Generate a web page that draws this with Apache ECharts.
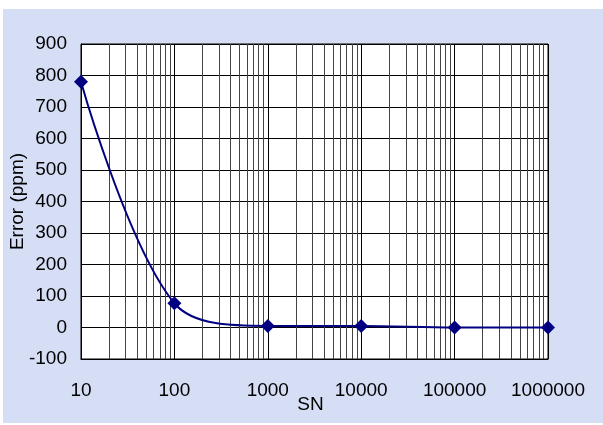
<!DOCTYPE html>
<html>
<head>
<meta charset="utf-8">
<script src="https://cdn.jsdelivr.net/npm/echarts@6/dist/echarts.min.js"></script>
<style>
html,body{margin:0;padding:0;background:#fff;}
#c{width:603px;height:425px;}
</style>
</head>
<body>
<div id="c"></div>
<script>
// Data
const snValues = [10, 100, 1000, 10000, 100000, 1000000];
const errorPpm = [780, 77, 5, 5, 0, 0];
const yTicks = { min: -100, max: 900, step: 100 };
const xRange = { min: 10, max: 1000000 };

// Log-scale minor grid positions (2..9 within each decade)
const minorGrid = [];
for (let d = xRange.min; d < xRange.max; d *= 10) {
  for (let m = 2; m <= 9; m++) minorGrid.push(d * m);
}

const chart = echarts.init(document.getElementById('c'), null, { renderer: 'canvas' });
const font = 'Arial, "Liberation Sans", sans-serif';
chart.setOption({
  backgroundColor: '#ffffff',
  animation: false,
  graphic: [{
    type: 'rect', z: -10,
    shape: { x: 3, y: 9, width: 600, height: 414 },
    style: { fill: '#d6def6' }
  }],
  grid: {
    left: 81, right: 55, top: 44, bottom: 66,
    containLabel: false, outerBoundsMode: 'none',
    show: true, backgroundColor: '#ffffff', borderColor: '#000', borderWidth: 1
  },
  xAxis: {
    type: 'log', logBase: 10, min: xRange.min, max: xRange.max,
    name: 'SN', nameLocation: 'middle', nameGap: 36, nameMoveOverlap: false,
    nameTextStyle: { fontFamily: font, fontSize: 19, color: '#000', padding: [0, 8, 0, 0] },
    axisLine: { onZero: false, lineStyle: { color: '#000', width: 1 } },
    axisTick: { show: false },
    axisLabel: { fontFamily: font, fontSize: 19, color: '#000', margin: 22, formatter: v => String(Math.round(v)) },
    splitLine: { show: true, lineStyle: { color: '#000', width: 1 } }
  },
  yAxis: {
    type: 'value', min: yTicks.min, max: yTicks.max, interval: yTicks.step,
    name: 'Error (ppm)', nameLocation: 'middle', nameGap: 54, nameRotate: 90, nameMoveOverlap: false,
    nameTextStyle: { fontFamily: font, fontSize: 19, color: '#000' },
    axisLine: { show: true, lineStyle: { color: '#000', width: 1 } },
    axisTick: { show: false },
    axisLabel: { fontFamily: font, fontSize: 19, color: '#000', margin: 14 },
    splitLine: { show: true, lineStyle: { color: '#000', width: 1 } }
  },
  series: [{
    type: 'line',
    data: snValues.map((x, i) => [x, errorPpm[i]]),
    smooth: 0.35,
    symbol: 'diamond', symbolSize: 14,
    itemStyle: { color: '#000080' },
    lineStyle: { color: '#000080', width: 2 },
    z: 5,
    markLine: {
      silent: true, symbol: 'none', animation: false,
      label: { show: false },
      lineStyle: { color: '#444', width: 1, type: 'solid' },
      emphasis: { disabled: true },
      data: minorGrid.map(v => ({ xAxis: v }))
    }
  }]
});
</script>
</body>
</html>
